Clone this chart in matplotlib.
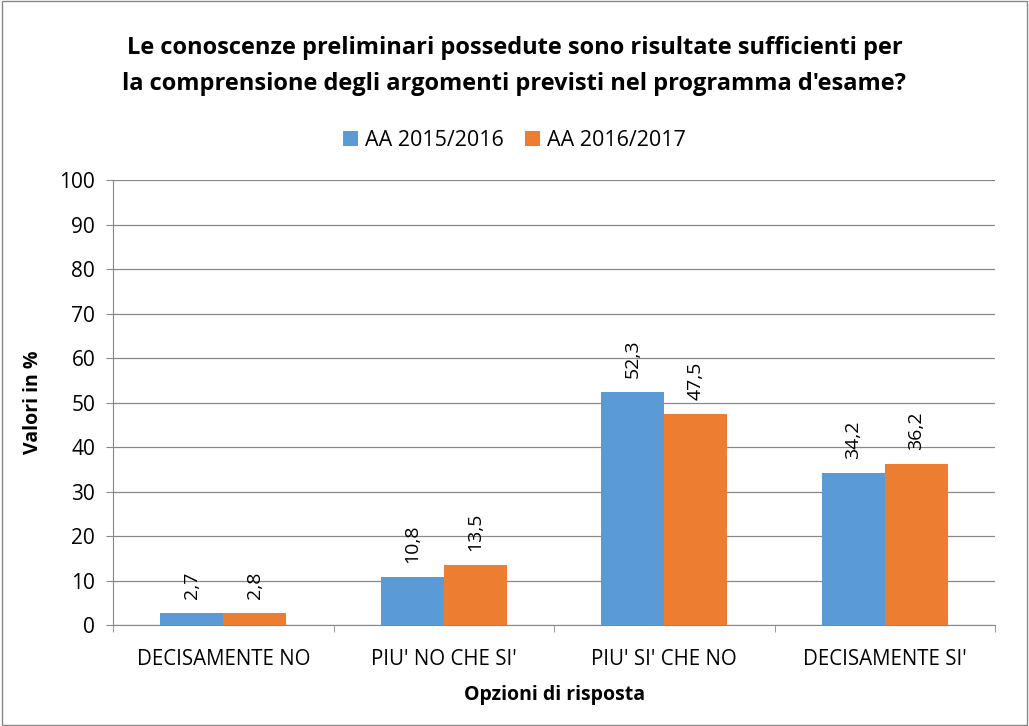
import matplotlib
matplotlib.use("Agg")
import matplotlib.pyplot as plt
import numpy as np
from matplotlib.patches import Rectangle

plt.rcParams['font.family'] = ['Open Sans', 'DejaVu Sans']

categories = ["DECISAMENTE NO", "PIU' NO CHE SI'", "PIU' SI' CHE NO", "DECISAMENTE SI'"]
series_names = ["AA 2015/2016", "AA 2016/2017"]
values_2015 = [2.7, 10.8, 52.3, 34.2]
values_2016 = [2.8, 13.5, 47.5, 36.2]
colors = ["#5B9BD5", "#ED7D31"]

fig = plt.figure(figsize=(10.29, 7.26), dpi=100)
ax = fig.add_axes([0.110, 0.139, 0.857, 0.613])

x = np.arange(len(categories))
w = 0.286
b1 = ax.bar(x - w/2, values_2015, w, color=colors[0], label=series_names[0], zorder=3)
b2 = ax.bar(x + w/2, values_2016, w, color=colors[1], label=series_names[1], zorder=3)

for bars, vals in ((b1, values_2015), (b2, values_2016)):
    for r, v in zip(bars, vals):
        ax.annotate(f"{v:.1f}".replace('.', ','), (r.get_x() + r.get_width()/2, v),
                    xytext=(0, 10), textcoords='offset points',
                    rotation=90, ha='center', va='bottom', fontsize=14, color='#000000')

ax.set_xlim(-0.5, 3.5)
ax.set_ylim(0, 100)
ax.set_yticks(range(0, 101, 10))
ax.tick_params(axis='y', labelsize=15, length=5, color='#888888', pad=8)
ax.set_xticks(x)
ax.set_xticklabels(categories, fontsize=14.8)
ax.tick_params(axis='x', length=0, pad=17)
ax.set_xticks(np.arange(-0.5, 3.6, 1), minor=True)
ax.tick_params(axis='x', which='minor', length=5, color='#888888')
ax.grid(axis='y', color='#888888', linewidth=0.9, zorder=0)
for s in ['top', 'right']:
    ax.spines[s].set_visible(False)
ax.spines['left'].set_color('#888888')
ax.spines['bottom'].set_color('#888888')

ax.set_ylabel("Valori in %", fontsize=14, fontweight='bold', labelpad=12)
ax.set_xlabel("Opzioni di risposta", fontsize=14, fontweight='bold', labelpad=11)

fig.text(0.5, 0.909, "Le conoscenze preliminari possedute sono risultate sufficienti per\nla comprensione degli argomenti previsti nel programma d'esame?",
         ha='center', va='center', fontsize=17, fontweight='bold', linespacing=1.62)

fig.legend(handles=[b1, b2], labels=series_names, loc='center', bbox_to_anchor=(0.5, 0.806),
           ncol=2, frameon=False, fontsize=15.5, handlelength=0.7, handleheight=0.7,
           columnspacing=1.0, handletextpad=0.3)

fig.patches.append(Rectangle((0.002, 0.002), 0.996, 0.996, transform=fig.transFigure,
                             fill=False, edgecolor='#888888', linewidth=1))

fig.savefig("out.png", dpi=100)
